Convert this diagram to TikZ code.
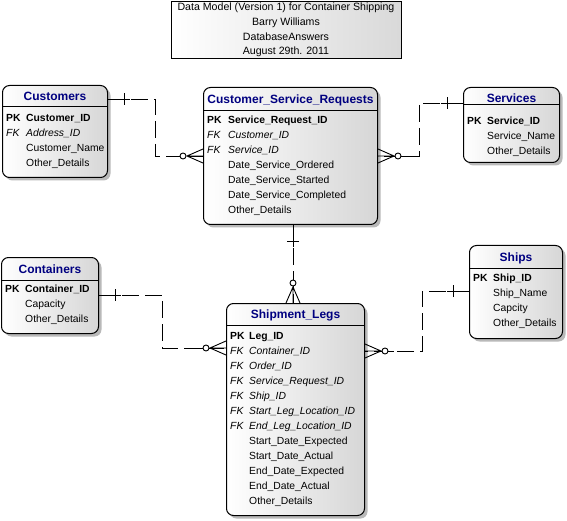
\documentclass[tikz,border=0pt]{standalone}
\usepackage{fontspec}
\setmainfont{Liberation Sans}
\usetikzlibrary{shadows,calc}
\definecolor{hdrblue}{RGB}{0,0,128}
\tikzset{
 ent/.style={draw=black, line width=1pt, rounded corners=7pt, left color=white, right color=gray!32,
   anchor=north west, inner sep=0pt,
   drop shadow={shadow xshift=3pt, shadow yshift=-3pt, fill=gray, opacity=0.55}},
 titlebox/.style={draw=black, line width=1pt, left color=white, right color=gray!30, anchor=north west, inner sep=0pt},
 hdr/.style={font=\fontsize{12}{14}\selectfont\bfseries, text=hdrblue, anchor=base, inner sep=0pt},
 fld/.style={font=\fontsize{10.35}{12}\selectfont, anchor=base west, inner sep=0pt},
 ttl/.style={font=\fontsize{10.6}{12}\selectfont, anchor=base, inner sep=0pt},
 sep/.style={line width=1pt},
 rel/.style={line width=0.9pt, dash pattern=on 17pt off 6pt},
 relsolid/.style={line width=0.9pt},
}
\newcommand\manyend[2]{\begin{scope}[shift={(#1)},rotate=#2]
 \draw[relsolid] (0,-7) -- (16,0) -- (0,7) (0,0) -- (16,0);
 \draw[relsolid] (23,0) -- (29,0);
 \draw[relsolid, fill=white] (20,0) circle[radius=3pt];
 \end{scope}}
\newcommand\oneend[2]{\begin{scope}[shift={(#1)},rotate=#2]
 \draw[relsolid] (0,0) -- (22,0) (16,-6) -- (16,6);
 \end{scope}}
\newcommand\fieldrows[5]{%
 \foreach [count=\i, evaluate=\i as \yy using #4+15*(\i-1)+3.7] \k/\t/\s in {#5} {
   \node[fld] (#1k\i) at (#2,\yy) {\s\k};
   \node[fld] (#1f\i) at (#3,\yy) {\s\t};
 }}
\begin{document}
\begin{tikzpicture}[x=1pt,y=-1pt]
\useasboundingbox (0,0) rectangle (567,521);
\fill[white] (0,0) rectangle (567,521);

% title block
\node[titlebox, minimum width=230pt, minimum height=57pt] (title) at (171,1) {};
\node[ttl] (t1) at (286,11) {Data Model (Version 1) for Container Shipping};
\node[ttl] (t2) at (286,26) {Barry Williams};
\node[ttl] (t3) at (286,40.4) {DatabaseAnswers};
\node[ttl] (t4) at (286,54.4) {August 29th. 2011};

% Customers
\node[ent, minimum width=105pt, minimum height=92pt] (cust) at (2,85) {};
\draw[sep] (cust.west |- 0,107) -- (cust.east |- 0,107);
\node[hdr] (custh) at (cust.north |- 0,100.3) {Customers};
\fieldrows{cust}{6}{26}{118}{PK/Customer\_ID/\bfseries, FK/Address\_ID/\itshape, /Customer\_Name/\relax, /Other\_Details/\relax}

% Customer_Service_Requests
\node[ent, minimum width=174pt, minimum height=137pt] (csr) at (203,87) {};
\draw[sep] (csr.west |- 0,111) -- (csr.east |- 0,111);
\node[hdr] (csrh) at (csr.north |- 0,103.3) {Customer\_Service\_Requests};
\fieldrows{csr}{207}{228}{120}{PK/Service\_Request\_ID/\bfseries, FK/Customer\_ID/\itshape, FK/Service\_ID/\itshape, /Date\_Service\_Ordered/\relax, /Date\_Service\_Started/\relax, /Date\_Service\_Completed/\relax, /Other\_Details/\relax}

% Services
\node[ent, minimum width=96pt, minimum height=75pt] (serv) at (463,87) {};
\draw[sep] (serv.west |- 0,105) -- (serv.east |- 0,105);
\node[hdr] (servh) at (serv.north |- 0,102.3) {Services};
\fieldrows{serv}{467}{487}{121}{PK/Service\_ID/\bfseries, /Service\_Name/\relax, /Other\_Details/\relax}

% Containers
\node[ent, minimum width=97pt, minimum height=76pt] (cont) at (1,257) {};
\draw[sep] (cont.west |- 0,280) -- (cont.east |- 0,280);
\node[hdr] (conth) at (cont.north |- 0,273.3) {Containers};
\fieldrows{cont}{5}{25}{289}{PK/Container\_ID/\bfseries, /Capacity/\relax, /Other\_Details/\relax}

% Shipment_Legs
\node[ent, minimum width=138pt, minimum height=212pt] (sl) at (226,303) {};
\draw[sep] (sl.west |- 0,325) -- (sl.east |- 0,325);
\node[hdr] (slh) at (sl.north |- 0,318.3) {Shipment\_Legs};
\fieldrows{sl}{230}{249}{336}{PK/Leg\_ID/\bfseries, FK/Container\_ID/\itshape, FK/Order\_ID/\itshape, FK/Service\_Request\_ID/\itshape, FK/Ship\_ID/\itshape, FK/Start\_Leg\_Location\_ID/\itshape, FK/End\_Leg\_Location\_ID/\itshape, /Start\_Date\_Expected/\relax, /Start\_Date\_Actual/\relax, /End\_Date\_Expected/\relax, /End\_Date\_Actual/\relax, /Other\_Details/\relax}

% Ships
\node[ent, minimum width=93pt, minimum height=93pt] (ships) at (469,245) {};
\draw[sep] (ships.west |- 0,268) -- (ships.east |- 0,268);
\node[hdr] (shipsh) at (ships.north |- 0,261.3) {Ships};
\fieldrows{ships}{473}{493}{278}{PK/Ship\_ID/\bfseries, /Ship\_Name/\relax, /Capcity/\relax, /Other\_Details/\relax}

% relationships
\draw[rel] (cust.east |- 0,99) -- (155,99) |- (csr.west |- 0,156);
\oneend{cust.east |- 0,99}{0}
\manyend{csr.west |- 0,156}{180}

\draw[rel] (serv.west |- 0,103) -- (419,103) |- (csr.east |- 0,156);
\oneend{serv.west |- 0,103}{180}
\manyend{csr.east |- 0,156}{0}

\draw[rel] (csr.south -| 293,0) -- (sl.north -| 293,0);
\oneend{csr.south -| 293,0}{-90}
\manyend{sl.north -| 293,0}{90}

\draw[rel] (cont.east |- 0,295) -- (162,295) |- (sl.west |- 0,348);
\oneend{cont.east |- 0,295}{0}
\manyend{sl.west |- 0,348}{180}

\draw[rel] (ships.west |- 0,291) -- (422,291) |- (sl.east |- 0,351);
\oneend{ships.west |- 0,291}{180}
\manyend{sl.east |- 0,351}{0}
\end{tikzpicture}
\end{document}
